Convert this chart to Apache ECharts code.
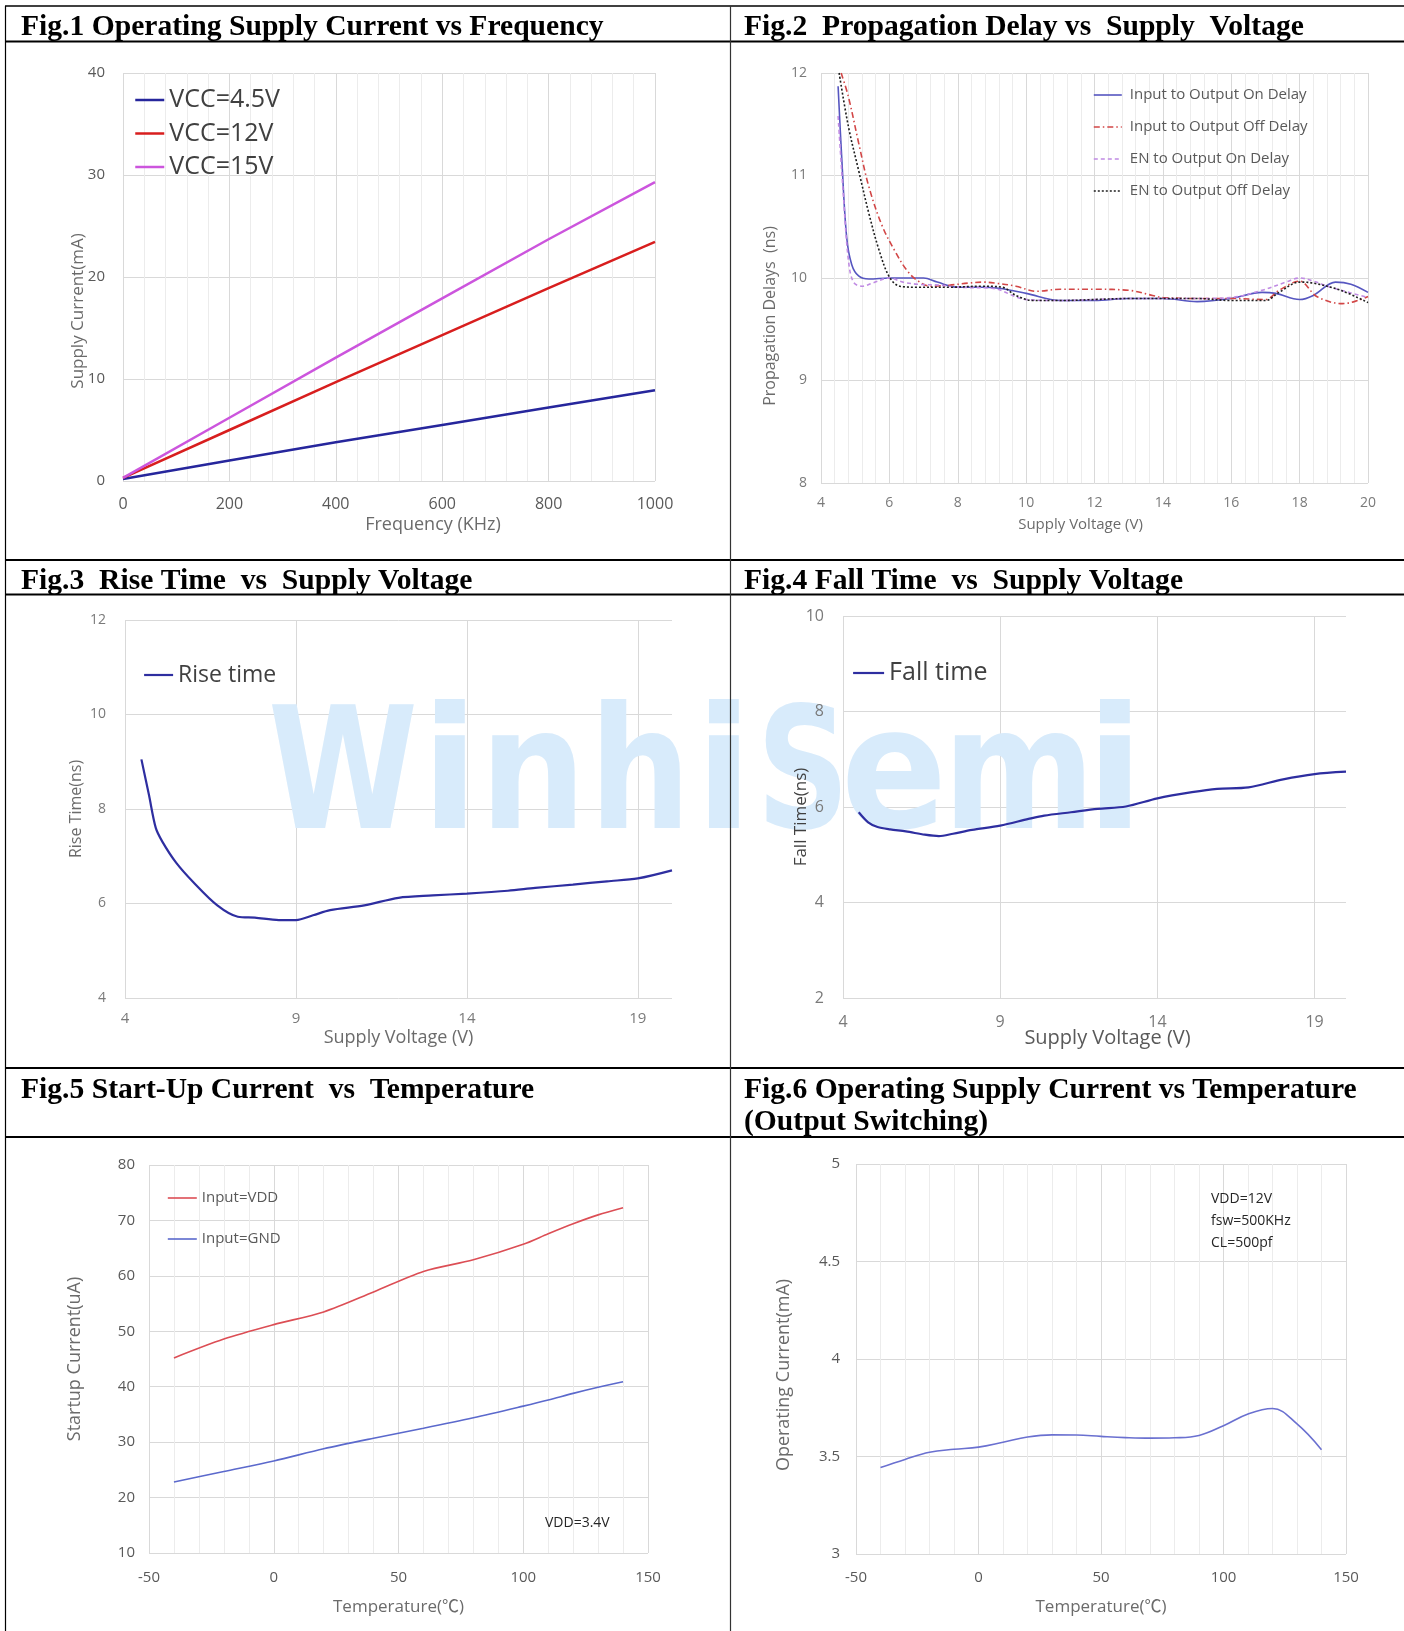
<!DOCTYPE html>
<html>
<head>
<meta charset="utf-8">
<title>Typical characteristics</title>
<script src="https://cdn.jsdelivr.net/npm/echarts@6/dist/echarts.min.js"></script>
<style>
html, body { margin: 0; padding: 0; background: #fff; }
#charts { width: 1404px; height: 1631px; }
</style>
</head>
<body>
<div id="charts"></div>
<script>
// Fig.1 supply current vs frequency
var freqKHz = [0, 200, 400, 600, 800, 1000];
var iccVcc45 = [0.2, 2.0, 3.8, 5.5, 7.2, 8.9];
var iccVcc12 = [0.3, 5.0, 9.7, 14.3, 18.9, 23.45];
var iccVcc15 = [0.3, 6.2, 12.1, 17.9, 23.7, 29.3];
var fig1X = [0, 1000, 200], fig1Y = [0, 40, 10];

// Fig.2 propagation delays
var onDelayV   = [4.5, 4.61, 4.75, 4.9, 5.1, 5.4, 6.0, 6.5, 7.0, 7.4, 8.0, 8.7, 9.2, 10, 11, 12, 13, 14, 15, 16, 16.9, 17.3, 18, 18.4, 19.05, 19.5, 20];
var onDelayNs  = [11.87, 11.15, 10.4, 10.13, 10.02, 9.99, 10.0, 10.0, 10.0, 9.96, 9.91, 9.91, 9.9, 9.85, 9.78, 9.78, 9.8, 9.8, 9.77, 9.8, 9.86, 9.85, 9.79, 9.83, 9.96, 9.94, 9.86];
var offDelayV  = [4.59, 4.8, 5.1, 5.4, 5.8, 6.2, 6.5, 6.8, 7.2, 7.75, 8.3, 8.75, 9.1, 9.7, 10.3, 11, 12, 13, 13.7, 14, 15, 16, 17, 17.4, 18, 18.5, 19.25, 19.7, 20];
var offDelayNs = [12.0, 11.77, 11.32, 10.89, 10.5, 10.24, 10.08, 9.98, 9.92, 9.93, 9.95, 9.96, 9.95, 9.92, 9.87, 9.89, 9.89, 9.88, 9.83, 9.81, 9.8, 9.8, 9.79, 9.88, 9.97, 9.82, 9.75, 9.78, 9.82];
var enOnV      = [4.5, 4.65, 4.8, 4.95, 5.2, 5.5, 6.0, 6.4, 6.8, 7.5, 8, 9, 10, 11, 12, 13, 14, 15, 16, 16.9, 17.6, 18, 18.4, 18.9, 20];
var enOnNs     = [11.58, 10.83, 10.18, 9.96, 9.92, 9.95, 10.0, 9.96, 9.94, 9.93, 9.91, 9.9, 9.79, 9.78, 9.79, 9.8, 9.8, 9.8, 9.81, 9.88, 9.96, 10.0, 9.97, 9.91, 9.81];
var enOffV     = [4.53, 4.8, 5.1, 5.4, 5.7, 6.0, 6.3, 6.8, 7.75, 8.7, 9.3, 9.7, 10.2, 11, 12, 13, 14, 15, 16, 17, 17.4, 18, 18.4, 19.2, 20];
var enOffNs    = [12.0, 11.48, 11.05, 10.63, 10.27, 10.01, 9.92, 9.91, 9.91, 9.92, 9.91, 9.83, 9.78, 9.78, 9.79, 9.8, 9.8, 9.8, 9.78, 9.78, 9.86, 9.96, 9.95, 9.88, 9.76];
var fig2X = [4, 20, 2], fig2Y = [8, 12, 1];

// Fig.3 rise time
var riseV  = [4.48, 4.7, 4.9, 5.1, 5.5, 6.0, 6.7, 7.3, 7.8, 8.5, 9.0, 9.5, 10.0, 11.0, 12.0, 13.0, 14.0, 15.2, 16.0, 17.1, 18.1, 19.0, 20.0];
var riseNs = [9.05, 8.3, 7.6, 7.3, 6.86, 6.45, 5.96, 5.72, 5.70, 5.65, 5.65, 5.75, 5.86, 5.96, 6.12, 6.17, 6.21, 6.27, 6.33, 6.40, 6.47, 6.53, 6.70];
var fig3X = [4, 20, 5], fig3Y = [4, 12, 2];

// Fig.4 fall time
var fallV  = [4.5, 4.8, 5.1, 5.5, 6.0, 6.6, 7.05, 7.5, 8.1, 9.0, 9.9, 10.4, 11.25, 12.1, 13.0, 14.0, 15.1, 15.9, 16.9, 18.0, 19.0, 20.0];
var fallNs = [5.89, 5.68, 5.58, 5.53, 5.49, 5.42, 5.39, 5.44, 5.52, 5.61, 5.75, 5.82, 5.89, 5.96, 6.01, 6.18, 6.31, 6.38, 6.41, 6.58, 6.69, 6.74];
var fig4X = [4, 20, 5], fig4Y = [2, 10, 2];

// Fig.5 start-up current
var startTempC = [-40, -20, 0, 20, 40, 60, 80, 100, 110, 120, 130, 140];
var startVdd   = [45.2, 48.6, 51.2, 53.5, 57.1, 60.8, 62.9, 65.7, 67.6, 69.4, 71.0, 72.3];
var startGnd   = [22.8, 24.7, 26.6, 28.8, 30.7, 32.5, 34.4, 36.5, 37.6, 38.8, 39.9, 40.9];
var fig5X = [-50, 150, 50], fig5Y = [10, 80, 10];

// Fig.6 operating current vs temperature
var opTempC = [-40, -30, -20, -10, 0, 10, 20, 30, 40, 50, 60, 70, 80, 90, 100, 110, 120, 130, 140];
var opCurMA = [3.443, 3.485, 3.522, 3.537, 3.548, 3.573, 3.600, 3.611, 3.610, 3.603, 3.597, 3.594, 3.596, 3.608, 3.658, 3.718, 3.746, 3.667, 3.535];
var fig6X = [-50, 150, 50], fig6Y = [3, 5, 0.5];

var FONT = "'Open Sans', 'Noto Sans CJK SC', sans-serif";
var SERIF = "'Liberation Serif', 'DejaVu Serif', serif";
var GRIDC = '#d9d9d9', MINORC = '#ececec';

function pairs(xs, ys) {
	return xs.map(function (x, i) { return [x, ys[i]]; });
}

function valueAxis(o) {
	return {
		type: 'value', gridIndex: o.grid, min: o.range[0], max: o.range[1], interval: o.range[2],
		position: o.pos, z: o.z || 0,
		name: o.name || '', nameLocation: 'middle', nameGap: o.nameGap || 0, nameMoveOverlap: false,
		nameTextStyle: { fontFamily: FONT, fontSize: o.nameSize || 16, color: o.nameColor || '#6b6b6b', padding: o.namePad || 0 },
		axisLine: { show: false },
		axisTick: { show: false },
		axisLabel: {
			show: o.labels !== false, fontFamily: FONT, fontSize: o.labelSize || 15, color: o.labelColor || '#6b6b6b',
			margin: o.margin || 12, showMinLabel: true, showMaxLabel: o.maxLabel !== false,
			formatter: function (v) { return String(v); }
		},
		splitLine: { show: o.split !== false, showMaxLine: o.maxLine !== false, lineStyle: { color: GRIDC, width: 1 } },
		minorTick: { show: false, splitNumber: o.minor || 5 },
		minorSplitLine: { show: !!o.minor, lineStyle: { color: MINORC, width: 1 } }
	};
}

function lineSeries(name, idx, yIdx, xs, ys, color, width, type, smooth) {
	return {
		type: 'line', name: name, xAxisIndex: idx, yAxisIndex: yIdx,
		data: pairs(xs, ys), symbol: 'none', smooth: smooth, z: 3,
		lineStyle: { color: color, width: width, type: type || 'solid' },
		itemStyle: { color: color },
		emphasis: { disabled: true }
	};
}

function legendBox(names, left, top, fontSize, gap, itemWidth, color, textPad) {
	return {
		data: names, left: left, top: top, orient: 'vertical', padding: 0,
		itemWidth: itemWidth, itemHeight: 12, itemGap: gap, selectedMode: false,
		itemStyle: { opacity: 0 }, lineStyle: { width: 'inherit' },
		textStyle: { fontFamily: FONT, fontSize: fontSize, color: color, padding: textPad || 0 }
	};
}

function hLine(y, w) {
	return { type: 'line', silent: true, z: 20, shape: { x1: 5, y1: y, x2: 1404, y2: y }, style: { stroke: '#000', lineWidth: w } };
}
function vLine(x, w, c) {
	return { type: 'line', silent: true, z: 20, shape: { x1: x, y1: 6, x2: x, y2: 1631 }, style: { stroke: c, lineWidth: w } };
}
function label(text, x, y, font, size, color, weight) {
	return { type: 'text', silent: true, z: 20, x: x, y: y,
		style: { text: text, fontFamily: font, fontSize: size, fontWeight: weight || 'normal', fill: color, align: 'left', verticalAlign: 'middle' } };
}

//水印
var watermark = [['W', 343, 0.8], ['i', 450, 1], ['n', 533, 0.88], ['h', 640, 0.84], ['i', 724, 1],
	['S', 803, 0.76], ['e', 894, 0.92], ['m', 1019, 0.86], ['i', 1115, 1]].map(function (c) {
	return { type: 'text', silent: true, z: 1, x: c[1], y: 784, scaleX: c[2],
		style: { text: c[0], fontFamily: "'DejaVu Sans', sans-serif", fontSize: 170, fontWeight: 'bold', fill: '#d8ebfb', align: 'center', verticalAlign: 'middle' } };
});

var charts = echarts.init(document.getElementById('charts'), null, { renderer: 'canvas' });

var option = {
	animation: false,
	backgroundColor: '#fff',
	grid: [
		{ left: 123, top: 73, width: 532, height: 408, outerBoundsMode: 'none' },
		{ left: 821, top: 73, width: 547, height: 410, outerBoundsMode: 'none' },
		{ left: 125, top: 620, width: 547, height: 378, outerBoundsMode: 'none' },
		{ left: 843, top: 616, width: 503, height: 382, outerBoundsMode: 'none' },
		{ left: 149, top: 1165, width: 499, height: 388, outerBoundsMode: 'none' },
		{ left: 856, top: 1164, width: 490, height: 390, outerBoundsMode: 'none' }
	],
	xAxis: [
		valueAxis({ grid: 0, range: fig1X, minor: 5, name: 'Frequency (KHz)', nameGap: 35, nameSize: 18, namePad: [0, 0, 0, 88], labelSize: 16, margin: 15, labelColor: '#595959' }),
		valueAxis({ grid: 1, range: fig2X, minor: 5, name: 'Supply Voltage (V)', nameGap: 34, nameSize: 15, namePad: [0, 28, 0, 0], labelSize: 14, margin: 13, labelColor: '#7a7a7a' }),
		valueAxis({ grid: 2, range: fig3X, maxLabel: false, maxLine: false, name: 'Supply Voltage (V)', nameGap: 31, nameSize: 18, labelSize: 15, margin: 13, labelColor: '#7a7a7a' }),
		valueAxis({ grid: 3, range: fig4X, maxLabel: false, maxLine: false, name: 'Supply Voltage (V)', nameGap: 30, nameSize: 20, namePad: [0, 0, 0, 26], nameColor: '#595959', labelSize: 16, margin: 16, labelColor: '#7a7a7a' }),
		valueAxis({ grid: 4, range: fig5X, minor: 5, name: 'Temperature(\u2103)', nameGap: 46, nameSize: 17, labelSize: 15, margin: 17, labelColor: '#595959' }),
		valueAxis({ grid: 5, range: fig6X, minor: 5, name: 'Temperature(\u2103)', nameGap: 45, nameSize: 17, labelSize: 15, margin: 16, labelColor: '#595959' })
	],
	yAxis: [
		valueAxis({ grid: 0, range: fig1Y, name: 'Supply Current(mA)', nameGap: 36, nameSize: 17, namePad: [0, 68, 0, 0], labelSize: 15, margin: 18, labelColor: '#595959' }),
		valueAxis({ grid: 1, range: fig2Y, name: 'Propagation Delays  (ns)', nameGap: 43, nameSize: 16, namePad: [0, 76, 0, 0], labelSize: 14, margin: 14, labelColor: '#7a7a7a' }),
		valueAxis({ grid: 2, range: fig3Y, name: 'Rise Time(ns)', nameGap: 41, nameSize: 16, labelSize: 14, margin: 19, labelColor: '#7a7a7a' }),
		valueAxis({ grid: 3, range: fig4Y, z: 5, split: false, name: 'Fall Time(ns)', nameGap: 33, nameSize: 17, namePad: [0, 20, 0, 0], nameColor: '#404040', labelSize: 16, margin: 19, labelColor: '#7a7a7a', pos: 'left' }),
		valueAxis({ grid: 4, range: fig5Y, name: 'Startup Current(uA)', nameGap: 65, nameSize: 18, labelSize: 15, margin: 14, labelColor: '#595959' }),
		valueAxis({ grid: 5, range: fig6Y, name: 'Operating Current(mA)', nameGap: 63, nameSize: 18, namePad: [0, 32, 0, 0], labelSize: 15, margin: 16, labelColor: '#595959' }),
		//Fig.4 网格线单独放在水印下面
		valueAxis({ grid: 3, range: fig4Y, labels: false, pos: 'left' })
	],
	legend: [
		legendBox(['VCC=4.5V', 'VCC=12V', 'VCC=15V'], 134, 87.5, 25, 8.5, 29, '#404040'),
		legendBox(['Input to Output On Delay', 'Input to Output Off Delay', 'EN to Output On Delay', 'EN to Output Off Delay'], 1093, 87.5, 15, 17, 28, '#595959', [0, 0, 0, 3]),
		legendBox(['Rise time'], 143, 663.5, 23, 10, 29, '#404040'),
		legendBox(['Fall time'], 852, 660.5, 25, 10, 31, '#404040'),
		legendBox(['Input=VDD', 'Input=GND'], 167, 1190.5, 15, 26, 29, '#595959')
	],
	series: [
		lineSeries('VCC=4.5V', 0, 0, freqKHz, iccVcc45, '#26269c', 2.5, 'solid', false),
		lineSeries('VCC=12V', 0, 0, freqKHz, iccVcc12, '#d81e1e', 2.5, 'solid', false),
		lineSeries('VCC=15V', 0, 0, freqKHz, iccVcc15, '#cc55dd', 2.5, 'solid', false),

		lineSeries('Input to Output On Delay', 1, 1, onDelayV, onDelayNs, '#5656c0', 1.6, 'solid', 0.35),
		lineSeries('Input to Output Off Delay', 1, 1, offDelayV, offDelayNs, '#d24646', 1.6, [6, 3, 1.5, 3], 0.35),
		lineSeries('EN to Output On Delay', 1, 1, enOnV, enOnNs, '#c08be3', 1.6, [4, 3], 0.35),
		lineSeries('EN to Output Off Delay', 1, 1, enOffV, enOffNs, '#1e1e1e', 1.6, [2, 2], 0.35),

		lineSeries('Rise time', 2, 2, riseV, riseNs, '#2e2ea0', 2.2, 'solid', 0.3),
		lineSeries('Fall time', 3, 3, fallV, fallNs, '#2e2ea0', 2.2, 'solid', 0.3),

		lineSeries('Input=VDD', 4, 4, startTempC, startVdd, '#dc4e55', 1.6, 'solid', 0.3),
		lineSeries('Input=GND', 4, 4, startTempC, startGnd, '#5b69cc', 1.6, 'solid', 0.3),

		lineSeries('Operating current', 5, 5, opTempC, opCurMA, '#6a70d0', 1.6, 'solid', 0.4)
	],
	graphic: watermark.concat([
		hLine(6, 1.5), hLine(41.5, 2), hLine(560, 2), hLine(594.5, 2), hLine(1068, 2), hLine(1137, 2),
		vLine(5.5, 1.2, '#000'), vLine(730.5, 1.2, '#333'),
		label('Fig.1 Operating Supply Current vs Frequency', 21, 27.5, SERIF, 29.6, '#000', 'bold'),
		label('Fig.2  Propagation Delay vs  Supply  Voltage', 744, 27.5, SERIF, 29.6, '#000', 'bold'),
		label('Fig.3  Rise Time  vs  Supply Voltage', 21, 581, SERIF, 29.6, '#000', 'bold'),
		label('Fig.4 Fall Time  vs  Supply Voltage', 744, 581, SERIF, 29.6, '#000', 'bold'),
		label('Fig.5 Start-Up Current  vs  Temperature', 21, 1090, SERIF, 29.6, '#000', 'bold'),
		label('Fig.6 Operating Supply Current vs Temperature', 744, 1090, SERIF, 29.6, '#000', 'bold'),
		label('(Output Switching)', 744, 1122, SERIF, 29.6, '#000', 'bold'),
		label('VDD=3.4V', 545, 1523, FONT, 14, '#262626'),
		label('VDD=12V', 1211, 1199, FONT, 14, '#262626'),
		label('fsw=500KHz', 1211, 1221, FONT, 14, '#262626'),
		label('CL=500pf', 1211, 1243, FONT, 14, '#262626')
	])
};
charts.setOption(option);
</script>
</body>
</html>
